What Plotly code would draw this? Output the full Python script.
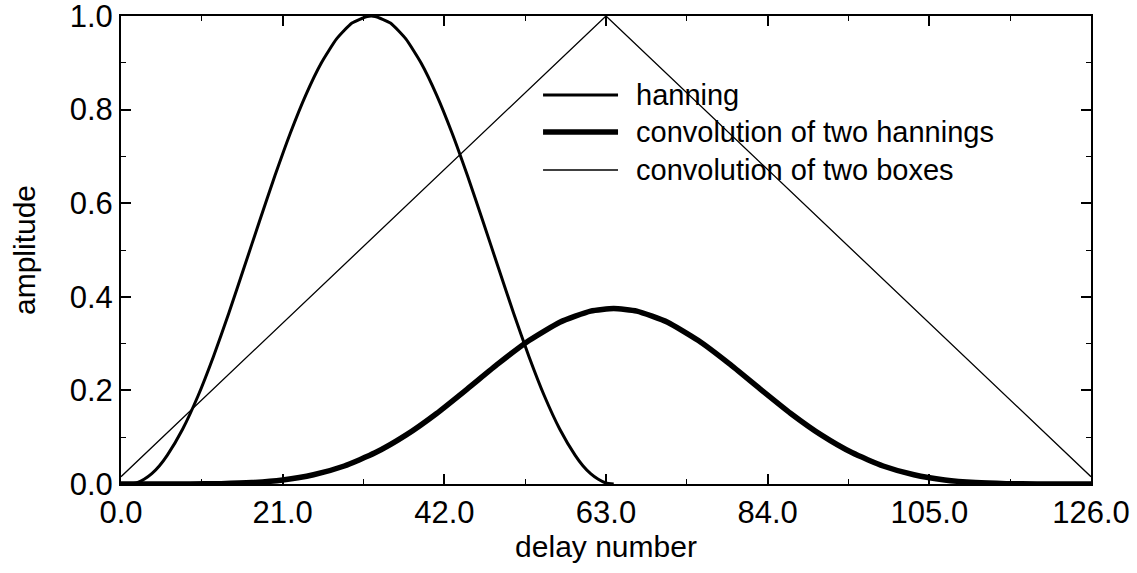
import plotly.graph_objects as go

# hanning window
hann_x = [0, 1, 2, 3, 4, 5, 6, 8, 10, 12, 14, 16, 18, 20, 22, 24, 26, 28, 30, 32, 33,
          35, 37, 39, 41, 43, 45, 47, 49, 51, 53, 55, 57, 59, 60, 61, 62, 63, 64]
hann_y = [0.0, 0.0, 0.002, 0.010, 0.022, 0.039, 0.061, 0.117, 0.188, 0.272, 0.365,
          0.463, 0.562, 0.659, 0.750, 0.831, 0.899, 0.951, 0.985, 0.999, 0.999,
          0.985, 0.951, 0.899, 0.831, 0.750, 0.659, 0.562, 0.463, 0.365, 0.272,
          0.188, 0.117, 0.061, 0.039, 0.022, 0.010, 0.002, 0.0]

# convolution of two hannings
conv_x = [0, 1, 5, 9, 13, 17, 21, 25, 29, 33, 37, 41, 45, 49, 53, 57, 61, 64,
          67, 71, 75, 79, 83, 87, 91, 95, 99, 103, 107, 111, 115, 119, 123, 126]
conv_y = [0.0, 0.0, 0.0, 0.0001, 0.0008, 0.003, 0.0086, 0.0197, 0.0385, 0.0666,
          0.1044, 0.1508, 0.2034, 0.2571, 0.3065, 0.3457, 0.3695, 0.375,
          0.3695, 0.3457, 0.3065, 0.2571, 0.2034, 0.1508, 0.1044, 0.0666,
          0.0385, 0.0197, 0.0086, 0.003, 0.0008, 0.0001, 0.0, 0.0]

# convolution of two boxes
box_x = [0, 63, 126]
box_y = [0.0156, 1.0, 0.0156]

x_ticks = [0, 21, 42, 63, 84, 105, 126]
y_ticks = [0.0, 0.2, 0.4, 0.6, 0.8, 1.0]
legend_names = ["hanning", "convolution of two hannings", "convolution of two boxes"]
line_widths = [3, 5.5, 1.3]

FONT = "Liberation Sans, Arial, Helvetica, sans-serif"

fig = go.Figure()
fig.add_trace(go.Scatter(x=box_x, y=box_y, mode="lines", name=legend_names[2],
                         line=dict(color="black", width=line_widths[2])))
fig.add_trace(go.Scatter(x=hann_x, y=hann_y, mode="lines", name=legend_names[0],
                         line=dict(color="black", width=line_widths[0], shape="spline", smoothing=0.5)))
fig.add_trace(go.Scatter(x=conv_x, y=conv_y, mode="lines", name=legend_names[1],
                         line=dict(color="black", width=line_widths[1], shape="spline", smoothing=0.5)))

# manual legend (paper coordinates)
leg_rows = [0.8312, 0.7521, 0.6709]
for name, w, yy in zip(legend_names, line_widths, leg_rows):
    fig.add_shape(type="line", xref="paper", yref="paper", x0=0.4351, x1=0.5124,
                  y0=yy, y1=yy, line=dict(color="black", width=w))
    fig.add_annotation(xref="paper", yref="paper", x=0.529, y=yy, text=name,
                       showarrow=False, xanchor="left", yanchor="middle",
                       font=dict(size=29, color="black", family=FONT))

axis_common = dict(showline=True, linecolor="black", linewidth=2, mirror="ticks",
                   ticks="inside", ticklen=10, tickwidth=1.5, tickcolor="black",
                   showgrid=False, zeroline=False, automargin=False,
                   ticklabeloverflow="allow",
                   tickfont=dict(size=31, color="black", family=FONT))

fig.update_xaxes(range=[0, 126], tickvals=x_ticks, tickformat=".1f",
                 minor=dict(dtick=10.5, tick0=0, ticks="inside", ticklen=5, tickcolor="black", tickwidth=1.2),
                 title=dict(text="delay number", font=dict(size=30, color="black", family=FONT), standoff=7),
                 **axis_common)
fig.update_yaxes(range=[0, 1], tickvals=y_ticks, tickformat=".1f",
                 minor=dict(dtick=0.1, tick0=0, ticks="inside", ticklen=5, tickcolor="black", tickwidth=1.2),
                 title=dict(text="amplitude", font=dict(size=30, color="black", family=FONT), standoff=25),
                 **axis_common)

fig.update_layout(width=1137, height=573, showlegend=False,
                  plot_bgcolor="white", paper_bgcolor="white",
                  margin=dict(l=121, r=46, t=16, b=89),
                  font=dict(family=FONT, color="black"))

# remove the page's default 8px body margin so the figure fills the window
fig.write_html("out.html", config={"displayModeBar": False},
               post_script="document.body.style.margin='0';")
